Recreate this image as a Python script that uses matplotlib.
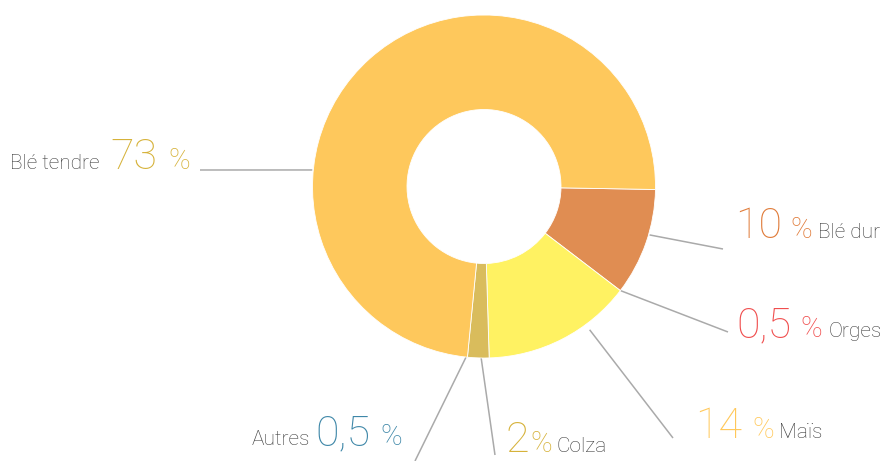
import numpy as np
import matplotlib
matplotlib.use("Agg")
import matplotlib.pyplot as plt

plt.rcParams['font.family'] = ['Roboto', 'DejaVu Sans']

# ---- data (clockwise order, starting right after Blé tendre) ----
categories = ["Blé dur", "Orges", "Maïs", "Colza", "Autres", "Blé tendre"]
shares = [10, 0.5, 14, 2, 0.5, 73]
share_labels = ["10", "0,5", "14", "2", "0,5", "73"]

wedge_colors = {"Blé dur": "#E08D52", "Orges": "#F04E4E", "Maïs": "#FFF262",
                "Colza": "#D9BC5C", "Autres": "#4A89A8", "Blé tendre": "#FEC85C"}
label_colors = {"Blé dur": "#E07B39", "Orges": "#F04E4E", "Maïs": "#FFC85A",
                "Colza": "#D6B23A", "Autres": "#3E87A8", "Blé tendre": "#D6B23A"}

# ---- layout (pixel space, y measured from top) ----
W, H = 883, 461
cx, cy = 484, 186.5
r_out, r_in = 171.5, 77
start_angle = -1

# label layout: (x_name, x_num, x_pct, baseline, anchor angle, anchor radius, line end)
layout = {
    "Blé tendre": (10, 110, 168, 169, 174.5, 172.5, (200, 170)),
    "Blé dur":    (818, 735, 790, 238, -16.3, 172.5, (723, 249)),
    "Orges":      (829, 736, 800, 337, -37.3, 172, (728, 332)),
    "Maïs":       (779, 695, 752, 438, -53.6, 178, (673, 438)),
    "Colza":      (556, 505, 530, 452, -91.0, 170.5, (495, 455)),
    "Autres":     (252, 315, 380, 445, -96.0, 171.5, (415, 461)),
}

fig = plt.figure(figsize=(W / 100, H / 100), dpi=100)
ax = fig.add_axes([0, 0, 1, 1])

drawn = [(c, v) for c, v in zip(categories, shares) if v >= 1]
ax.pie([v for _, v in drawn], colors=[wedge_colors[c] for c, _ in drawn],
       startangle=start_angle, counterclock=False,
       center=(cx, H - cy), radius=r_out,
       wedgeprops=dict(width=r_out - r_in, edgecolor="white", linewidth=0.6))

ax.set_xlim(0, W)
ax.set_ylim(0, H)
ax.set_aspect('equal')
ax.axis('off')

name_color = "#3A3A3A"
for cat, lab in zip(categories, share_labels):
    xn, xv, xp, base, ang, rad, end = layout[cat]
    y = H - base
    col = label_colors[cat]
    ax.text(xn, y, cat, fontsize=15, color=name_color, ha='left', va='baseline',
            fontweight='light')
    ax.text(xv, y, lab, fontsize=31, color=col, ha='left', va='baseline',
            fontweight='light')
    ax.text(xp, y, "%", fontsize=21, color=col, ha='left', va='baseline',
            fontweight='light')
    a = np.deg2rad(ang)
    sx, sy = cx + rad * np.cos(a), cy - rad * np.sin(a)
    ax.plot([sx, end[0]], [H - sy, H - end[1]], color="#AAAAAA", lw=1.1,
            solid_capstyle='butt', zorder=0)

fig.savefig("out.png", dpi=100)
